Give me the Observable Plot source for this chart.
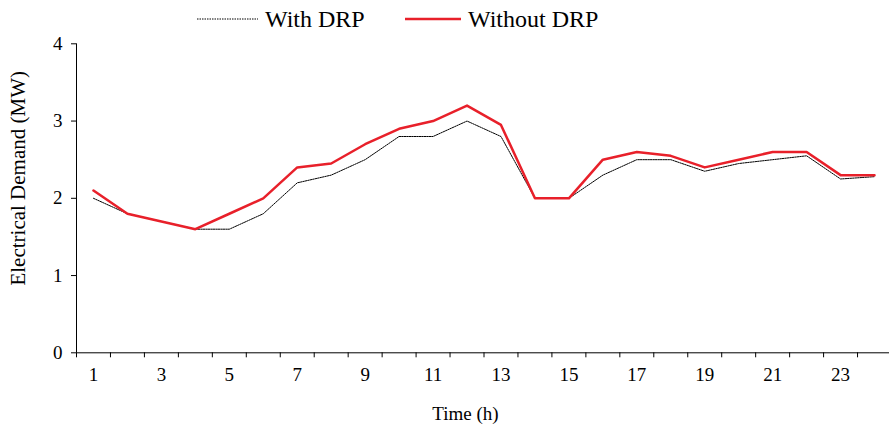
<!DOCTYPE html>
<html>
<head>
<meta charset="utf-8">
<script src="https://cdn.jsdelivr.net/npm/d3@7"></script>
<script src="https://cdn.jsdelivr.net/npm/@observablehq/plot@0.6"></script>
<style>
  html, body { margin: 0; padding: 0; background: #fff; }
  #legend { position: relative; width: 889px; height: 30px; font-family: "Liberation Serif", serif; font-size: 24px; color: #000; }
  #legend .item { position: absolute; top: 0; height: 38px; display: flex; align-items: center; white-space: nowrap; }
  #legend svg { display: block; margin-right: 7px; }
  #chart svg { display: block; }
</style>
</head>
<body>
<div id="legend"></div>
<div id="chart"></div>
<script>
const hours = [1,2,3,4,5,6,7,8,9,10,11,12,13,14,15,16,17,18,19,20,21,22,23,24];
const withDRP    = [2.0,1.8,1.7,1.6,1.6,1.8,2.2,2.3,2.5,2.8,2.8,3.0,2.8,2.0,2.0,2.3,2.5,2.5,2.35,2.45,2.5,2.55,2.25,2.28];
const withoutDRP = [2.1,1.8,1.7,1.6,1.8,2.0,2.4,2.45,2.7,2.9,3.0,3.2,2.95,2.0,2.0,2.5,2.6,2.55,2.4,2.5,2.6,2.6,2.3,2.3];
const xTickLabels = [1,3,5,7,9,11,13,15,17,19,21,23];
const yTicks = [0,1,2,3,4];
const seriesNames = ["With DRP", "Without DRP"];

const RED = "#e8202a";

const dataWith = hours.map((h, i) => ({hour: h, value: withDRP[i]}));
const dataWithout = hours.map((h, i) => ({hour: h, value: withoutDRP[i]}));
const boundaries = hours.map(h => h - 0.5).concat([hours[hours.length - 1] + 0.5]);

// legend
const legend = document.getElementById("legend");
const legendDefs = [
  {name: seriesNames[0], left: 197, w: 61, stroke: "#000", sw: 1, dash: "1.5,1"},
  {name: seriesNames[1], left: 405, w: 56, stroke: RED, sw: 2.5, dash: null}
];
for (const d of legendDefs) {
  const item = document.createElement("div");
  item.className = "item";
  item.style.left = d.left + "px";
  item.innerHTML = `<svg width="${d.w}" height="6"><line x1="0" x2="${d.w}" y1="3" y2="3" stroke="${d.stroke}" stroke-width="${d.sw}" ${d.dash ? `stroke-dasharray="${d.dash}"` : ""}/></svg><span>${d.name}</span>`;
  legend.appendChild(item);
}

const chart = Plot.plot({
  width: 889,
  height: 395,
  marginLeft: 76,
  marginRight: 0,
  marginTop: 13.3,
  marginBottom: 72.7,
  style: {fontFamily: "Liberation Serif, serif", fontSize: "19px", color: "#000", background: "#fff"},
  x: {domain: [0.5, 24.5], range: [76, 891]},
  y: {domain: [0, 4], range: [322.3, 13.3]},
  marks: [
    Plot.axisY({ticks: yTicks, tickSize: 5, tickPadding: 9, tickFormat: d => String(d), label: null, fontSize: 19}),
    Plot.axisX({ticks: boundaries, tickSize: 5, tickFormat: () => "", label: null}),
    Plot.axisX({ticks: xTickLabels, tickSize: 0, tickPadding: 15, tickFormat: d => String(d), label: null, fontSize: 19}),
    Plot.ruleY([0], {stroke: "#000", strokeWidth: 1}),
    Plot.ruleX([0.5], {stroke: "#000", strokeWidth: 1}),
    Plot.line(dataWith, {x: "hour", y: "value", stroke: "#000", strokeWidth: 1, strokeDasharray: "1.5,1"}),
    Plot.line(dataWithout, {x: "hour", y: "value", stroke: RED, strokeWidth: 2.5}),
    Plot.text(["Time (h)"], {frameAnchor: "bottom", lineAnchor: "middle", dy: 61, dx: -17.5, fontSize: 19, fill: "#000"}),
    Plot.text(["Electrical Demand (MW)"], {frameAnchor: "left", rotate: -90, textAnchor: "middle", lineAnchor: "middle", dx: -58, dy: -20, fontSize: 21, fill: "#000"})
  ]
});
document.getElementById("chart").appendChild(chart);
</script>
</body>
</html>
